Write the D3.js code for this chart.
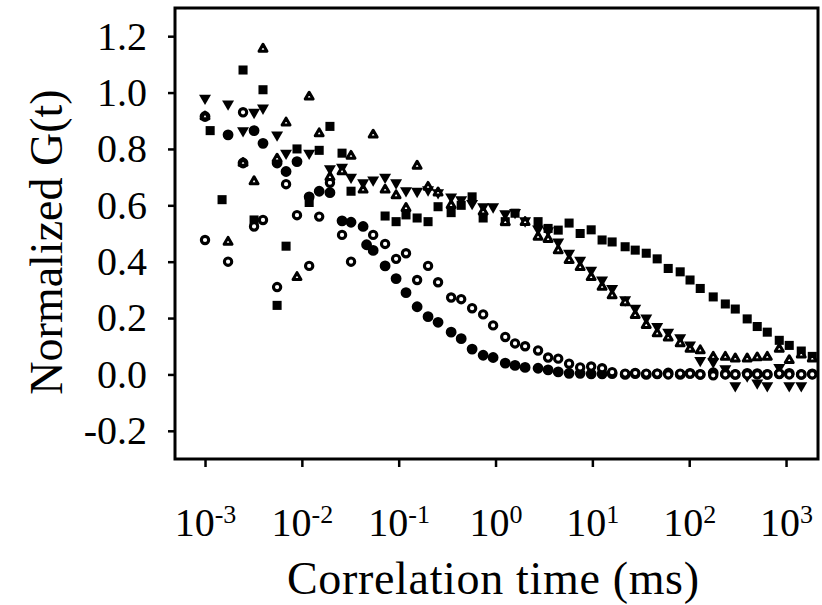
<!DOCTYPE html>
<html lang="en">
<head>
<meta charset="UTF-8">
<title>Normalized G(t)</title>
<script src="https://d3js.org/d3.v7.min.js"></script>
<style>
    body { margin: 0; background: #fff; }
    svg { display: block; font-family: "Liberation Serif", "Times New Roman", serif; }
    .axis path { display: none; }
    .axis line { stroke: #000; stroke-width: 2.5; }
    .axis text { fill: #000; font-size: 40px; font-family: "Liberation Serif", serif; }
    .title { font-size: 46px; fill: #000; }
</style>
</head>
<body>
<svg id="chart" width="822" height="605"></svg>
<script>
// lag times (ms), shared by every curve
const lagTimes = [0.00100, 0.00113, 0.00150, 0.00173, 0.00247, 0.00321, 0.00397, 0.00555, 0.00687, 0.00891,
    0.0119, 0.0151, 0.0195, 0.0260, 0.0322, 0.0429, 0.0466, 0.0545, 0.0724, 0.0940,
    0.119, 0.155, 0.201, 0.255, 0.348, 0.442, 0.573, 0.745, 0.944, 1.26,
    1.59, 2.02, 2.75, 3.49, 4.44, 5.75, 7.48, 9.72, 12.6, 16.0,
    21.8, 27.7, 36.0, 46.7, 60.7, 80.7, 102, 130, 177, 236,
    299, 397, 504, 640, 851, 1079, 1436, 1866];

// normalized G(t), null = no point
const filledSquares = [null, 0.865, 0.62, null, 1.08, 0.548, 1.01, 0.245, 0.455, 0.80,
    0.61, 0.795, 0.88, 0.785, 0.65, null, null, null, 0.562, 0.542,
    0.566, 0.555, 0.542, 0.595, 0.574, 0.60, 0.63, 0.555, null, 0.542,
    0.572, null, 0.542, 0.518, 0.512, 0.537, 0.50, 0.513, 0.477, 0.47,
    0.453, 0.441, 0.43, 0.41, 0.376, 0.364, 0.335, 0.305, 0.275, 0.25,
    0.232, 0.197, 0.17, 0.15, 0.121, 0.103, 0.083, 0.064];

const filledCircles = [0.915, null, null, 0.85, 0.75, 0.865, 0.82, 0.75, 0.72, 0.755,
    0.63, 0.65, 0.645, 0.545, 0.54, 0.525, 0.46, 0.44, 0.385, 0.34,
    0.29, 0.24, 0.205, 0.185, 0.15, 0.127, 0.09, 0.068, 0.06, 0.04,
    0.032, 0.025, 0.022, 0.016, 0.009, 0.004, 0.004, 0.002, 0.002, 0.003,
    0.0, 0.003, 0.0, 0.002, 0.005, 0.0, 0.004, 0.0, 0.006, 0.002,
    0.0, 0.004, 0.003, 0.0, 0.002, 0.004, 0.0, 0.002];

const downTriangles = [0.98, null, null, 0.96, 0.865, 0.93, 0.945, 0.85, 0.785, null,
    0.785, null, 0.73, 0.735, 0.70, 0.68, null, 0.69, 0.70, 0.68,
    0.652, 0.65, 0.655, 0.645, 0.63, 0.62, 0.607, 0.595, 0.595, 0.57,
    0.575, 0.545, 0.516, 0.51, 0.47, 0.43, 0.405, 0.37, 0.335, 0.305,
    0.265, 0.235, 0.20, 0.17, 0.15, 0.13, 0.105, 0.05, 0.045, 0.02,
    -0.04, -0.005, -0.03, -0.04, 0.025, -0.04, -0.04, null];

const openCircles = [0.477, null, null, 0.40, 0.93, 0.525, 0.548, 0.31, 0.675, 0.565,
    0.385, 0.56, 0.68, 0.495, 0.40, null, null, 0.495, 0.463, 0.41,
    0.43, 0.335, 0.385, 0.327, 0.273, 0.267, 0.235, 0.213, 0.174, 0.133,
    0.11, 0.10, 0.085, 0.06, 0.056, 0.038, 0.025, 0.028, 0.022, 0.008,
    0.003, 0.005, 0.003, 0.003, 0.0, 0.003, 0.003, 0.0, -0.003, 0.0,
    0.0, 0.0, 0.0, 0.0, 0.003, 0.0, 0.0, 0.0];

const openTriangles = [0.915, null, null, 0.47, 0.75, 0.685, 1.155, 0.765, 0.893, 0.345,
    0.985, 0.855, 0.70, 0.72, 0.775, 0.655, null, 0.85, 0.655, 0.635,
    0.59, 0.74, 0.665, 0.645, 0.60, null, null, 0.577, null, 0.54,
    null, 0.54, 0.488, 0.48, 0.44, 0.405, 0.38, 0.345, 0.31, 0.28,
    0.255, 0.21, 0.175, 0.145, 0.13, 0.11, 0.09, 0.085, 0.062, 0.062,
    0.056, 0.056, 0.06, 0.062, 0.09, 0.05, 0.07, 0.056];

const xTicks = [1e-3, 1e-2, 1e-1, 1e0, 1e1, 1e2, 1e3];
const yTicks = [-0.2, 0.0, 0.2, 0.4, 0.6, 0.8, 1.0, 1.2];

const Margin = { top: 8, right: 4, bottom: 146, left: 175 };
const Width = 822, Height = 605;

const svg = d3.select("#chart");

const x = d3.scaleLog()
    .domain([Math.pow(10, -3.31), Math.pow(10, 3.33)])
    .range([Margin.left, Width - Margin.right]);

const y = d3.scaleLinear()
    .domain([-0.3, 1.3])
    .range([Height - Margin.bottom, Margin.top]);

// marker styles, drawn in this order
const series = [
    { values: filledSquares, type: d3.symbolSquare, size: 82, fill: "#000", stroke: "none", sw: 0, rot: 0 },
    { values: filledCircles, type: d3.symbolCircle, size: 92, fill: "#000", stroke: "none", sw: 0, rot: 0 },
    { values: downTriangles, type: d3.symbolTriangle, size: 62, fill: "#000", stroke: "none", sw: 0, rot: 180 },
    { values: openCircles, type: d3.symbolCircle, size: 42, fill: "#fff", stroke: "#000", sw: 3.1, rot: 0 },
    { values: openTriangles, type: d3.symbolTriangle, size: 27, fill: "#fff", stroke: "#000", sw: 3, rot: 0 }
];

series.forEach(s => {
    const pts = lagTimes.map((t, i) => ({ t: t, g: s.values[i] }))
        .filter(d => d.g !== null);
    svg.append("g")
        .selectAll("path")
        .data(pts)
        .join("path")
        .attr("transform", d => `translate(${x(d.t)},${y(d.g)}) rotate(${s.rot})`)
        .attr("d", d3.symbol(s.type, s.size))
        .attr("fill", s.fill)
        .attr("stroke", s.stroke)
        .attr("stroke-width", s.sw)
        .attr("stroke-linejoin", "round");
});

// y axis
const yAxis = svg.append("g")
    .attr("class", "axis")
    .attr("transform", `translate(${Margin.left},0)`)
    .call(d3.axisLeft(y)
        .tickValues(yTicks)
        .tickSize(7)
        .tickFormat(d => d.toFixed(1)));
yAxis.selectAll("text").attr("x", -28);

// x axis with 10^n labels
const xAxis = svg.append("g")
    .attr("class", "axis")
    .attr("transform", `translate(0,${Height - Margin.bottom})`)
    .call(d3.axisBottom(x)
        .tickValues(xTicks)
        .tickSize(8)
        .tickFormat(() => ""));
xAxis.selectAll(".tick text")
    .attr("y", 77)
    .attr("dy", 0)
    .each(function (d) {
        const t = d3.select(this);
        t.text("10");
        t.append("tspan")
            .attr("dy", "-0.5em")
            .style("font-size", "26px")
            .text(String(Math.round(Math.log10(d))));
    });

// frame
svg.append("rect")
    .attr("x", Margin.left)
    .attr("y", Margin.top)
    .attr("width", Width - Margin.left - Margin.right)
    .attr("height", Height - Margin.top - Margin.bottom)
    .attr("fill", "none")
    .attr("stroke", "#000")
    .attr("stroke-width", 3);

svg.append("text")
    .attr("class", "title")
    .attr("text-anchor", "middle")
    .attr("x", 493)
    .attr("y", 594)
    .attr("textLength", 412)
    .text("Correlation time (ms)");

svg.append("text")
    .attr("class", "title")
    .attr("text-anchor", "middle")
    .attr("transform", "translate(62,242) rotate(-90)")
    .text("Normalized G(t)");
</script>
</body>
</html>
